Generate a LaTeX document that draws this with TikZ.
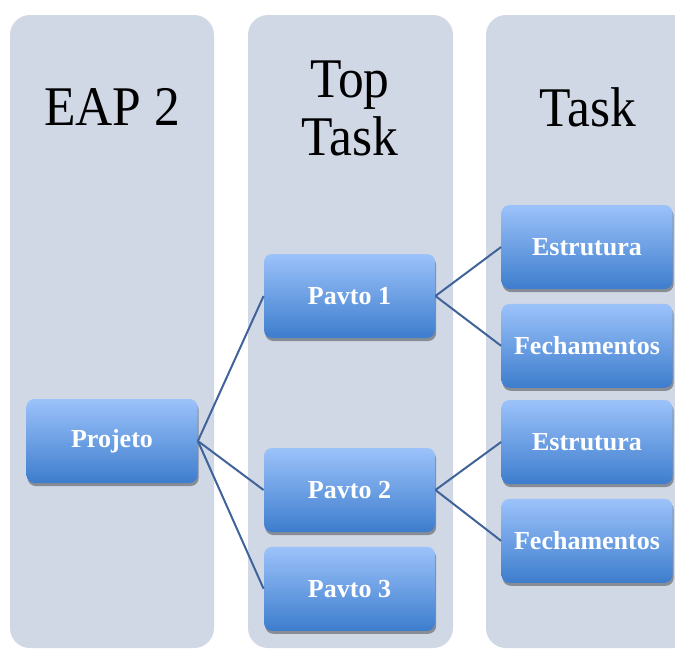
\documentclass[tikz,border=0pt]{standalone}
\usepackage{fontspec}
\setmainfont{Liberation Serif}
\newfontfamily\titlefont[FakeStretch=0.92]{Liberation Serif}
\usetikzlibrary{positioning,shadows}
\definecolor{panelgray}{HTML}{D0D8E6}
\definecolor{boxtop}{HTML}{9CC2FA}
\definecolor{boxbottom}{HTML}{3D7DCD}
\definecolor{linkblue}{HTML}{40639A}
\begin{document}
\begin{tikzpicture}[
    x=0.5pt,y=-0.5pt,
    node distance=7pt and 0pt,
    panel/.style={fill=panelgray,rounded corners=10pt},
    title/.style={font=\titlefont\fontsize{28}{29}\selectfont,align=center},
    wbox/.style={rounded corners=4pt,minimum width=85.5pt,minimum height=42pt,
                 top color=boxtop,bottom color=boxbottom,text=white,
                 font=\fontsize{13}{15}\selectfont\bfseries,
                 drop shadow={shadow xshift=.6pt,shadow yshift=-1.5pt,
                              opacity=.35,fill=black}},
    link/.style={draw=linkblue,line width=1pt}]
\clip (0,0) rectangle (675,650);
\fill[white] (0,0) rectangle (675,650);
% columns
\fill[panel] (10,15) rectangle (214,648);
\fill[panel] (248,15) rectangle (453,648);
\fill[panel] (486,15) rectangle (700,648);
\node (eap)  [title] at (112,107) {EAP 2};
\node (top)  [title] at (350,108) {Top\\Task};
\node (task) [title] at (588,107) {Task};
% boxes
\node (proj) [wbox] at (112,441) {Projeto};
\node (p1)   [wbox] at (349.5,296) {Pavto 1};
\node (p2)   [wbox] at (349.5,490) {Pavto 2};
\node (p3)   [wbox,below=of p2] {Pavto 3};
\node (e1)   [wbox] at (587,247) {Estrutura};
\node (f1)   [wbox,below=of e1] {Fechamentos};
\node (e2)   [wbox] at (587,442) {Estrutura};
\node (f2)   [wbox,below=of e2] {Fechamentos};
% links
\draw[link] (proj.east) -- (p1.west);
\draw[link] (proj.east) -- (p2.west);
\draw[link] (proj.east) -- (p3.west);
\draw[link] (p1.east) -- (e1.west);
\draw[link] (p1.east) -- (f1.west);
\draw[link] (p2.east) -- (e2.west);
\draw[link] (p2.east) -- (f2.west);
\end{tikzpicture}
\end{document}
